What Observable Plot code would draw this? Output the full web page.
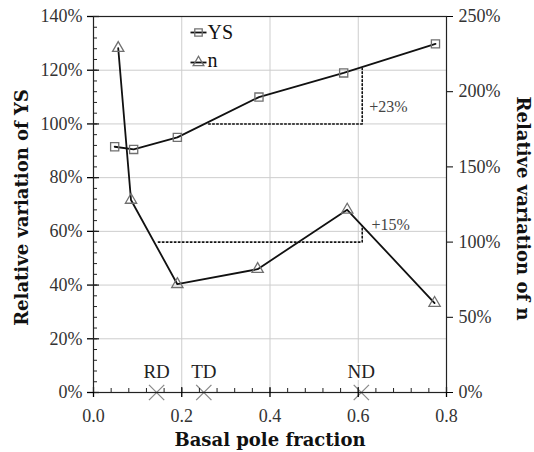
<!DOCTYPE html>
<html><head><meta charset="utf-8">
<script src="https://cdn.jsdelivr.net/npm/d3@7"></script>
<script src="https://cdn.jsdelivr.net/npm/@observablehq/plot@0.6"></script>
<style>body{margin:0;background:#fff}</style>
</head><body><div id="chart"></div>
<script>
// ---- data ----
const ysX   = [0.048, 0.091, 0.19, 0.375, 0.567, 0.775];
const ysVal = [91.5, 90.5, 95, 110, 119, 129.8];          // left axis, %
const nX    = [0.056, 0.085, 0.19, 0.372, 0.575, 0.773];
const nVal  = [229, 128, 72, 82, 121.5, 59.5];            // right axis, %
const dirNames = ["RD", "TD", "ND"];
const dirX     = [0.143, 0.25, 0.607];
const ysRefX = [0.261, 0.609, 0.609];
const ysRefY = [100, 100, 120.6];                         // left axis
const nRefX  = [0.147, 0.609, 0.609];
const nRefY  = [100, 100, 110.8];                         // right axis
const annTexts = ["+23%", "+15%"];
const annX     = [0.625, 0.63];
const annY     = [106.5, 111.5];                          // left / right axis values
const xTicks     = [0, 0.2, 0.4, 0.6, 0.8];
const xMinor     = d3.range(0, 0.8001, 0.04);
const leftTicks  = [0, 20, 40, 60, 80, 100, 120, 140];
const leftMinor  = d3.range(0, 140.01, 4);
const rightTicks = [0, 50, 100, 150, 200, 250];
const xGrid = [0.2, 0.4, 0.6];
const yGrid = [20, 40, 60, 80, 100, 120];
const legendNames = ["YS", "n"];

const K = 140 / 250; // right axis -> left axis
const ys = ysX.map((x, i) => ({x, y: ysVal[i]}));
const nn = nX.map((x, i) => ({x, y: nVal[i] * K}));
const ysRef = ysRefX.map((x, i) => ({x, y: ysRefY[i]}));
const nRef = nRefX.map((x, i) => ({x, y: nRefY[i] * K}));
const ann = annTexts.map((t, i) => ({t, x: annX[i], y: i === 0 ? annY[i] : annY[i] * K}));
const dirs = dirNames.map((name, i) => ({name, x: dirX[i]}));

const W = 534, H = 452, ML = 93, MR = 88, MT = 16, MB = 60;
const PW = W - ML - MR, PH = H - MT - MB;

const lineSym = {draw(ctx, size) { ctx.moveTo(-8, 0); ctx.lineTo(8, 0); }};
const markerGrey = "#707070";
const serif = "Liberation Serif";
const bold = "DejaVu Serif";

const chart = Plot.plot({
  width: W, height: H,
  marginLeft: ML, marginRight: MR, marginTop: MT, marginBottom: MB,
  x: {domain: [0, 0.8]},
  y: {domain: [0, 140]},
  style: {fontFamily: serif, fontSize: "17px", background: "white"},
  marks: [
    Plot.gridX(xGrid, {stroke: "#cdcdcd", strokeOpacity: 1}),
    Plot.gridY(yGrid, {stroke: "#cdcdcd", strokeOpacity: 1}),
    Plot.line(ysRef, {x: "x", y: "y", stroke: "#111", strokeWidth: 1.6, strokeDasharray: "1.6,2.4"}),
    Plot.line(nRef, {x: "x", y: "y", stroke: "#111", strokeWidth: 1.6, strokeDasharray: "1.6,2.4"}),
    Plot.line(ys, {x: "x", y: "y", stroke: "#111", strokeWidth: 1.8}),
    Plot.line(nn, {x: "x", y: "y", stroke: "#111", strokeWidth: 1.8}),
    Plot.dot(ys, {x: "x", y: "y", symbol: "square", r: 4.6, stroke: markerGrey, strokeWidth: 1.3, fill: "none"}),
    Plot.dot(nn, {x: "x", y: "y", symbol: "triangle", r: 4.2, stroke: markerGrey, strokeWidth: 1.3, fill: "none"}),
    Plot.text(ann, {x: "x", y: "y", text: "t", textAnchor: "start", fontFamily: serif, fontSize: 16, fill: "#444"}),
    Plot.text(dirs, {x: "x", y: () => 0, text: "name", dy: -21, fontFamily: serif, fontSize: 19, fill: "#222", stroke: "white", strokeWidth: 4}),
    Plot.dot(dirs, {x: "x", y: () => 0, symbol: "times", r: 7, stroke: "#8a8a8a", strokeWidth: 1.3}),
    Plot.frame({stroke: "#222", strokeWidth: 1.2}),
    // inward minor/major ticks
    Plot.tickY(leftMinor, {y: d => d, insetRight: PW - 4, stroke: "#222", strokeWidth: 1}),
    Plot.tickY(leftTicks, {y: d => d, insetRight: PW - 6, stroke: "#222", strokeWidth: 1.3}),
    Plot.tickX(xMinor, {x: d => d, insetTop: PH - 4, stroke: "#222", strokeWidth: 1}),
    Plot.tickX(xTicks, {x: d => d, insetTop: PH - 5, stroke: "#222", strokeWidth: 1.3}),
    // axes
    Plot.axisX(xTicks, {tickSize: 5, tickPadding: 12, tickFormat: d => d.toFixed(1), label: null, fontFamily: serif, fontSize: 18, fill: "#333", strokeWidth: 1.3}),
    Plot.axisY(leftTicks, {anchor: "left", tickSize: 6, tickPadding: 5, tickFormat: d => d + "%", label: null, fontFamily: serif, fontSize: 18, fill: "#333", strokeWidth: 1.3}),
    Plot.axisY(rightTicks.map(v => v * K), {anchor: "right", tickSize: 6, tickPadding: 6, tickFormat: d => Math.round(d / K) + "%", label: null, fontFamily: serif, fontSize: 18, fill: "#333"}),
    // axis titles
    Plot.text(["Basal pole fraction"], {frameAnchor: "bottom", dy: 48, textAnchor: "middle", lineAnchor: "middle", fontFamily: bold, fontWeight: "bold", fontSize: 18, letterSpacing: 2, fill: "#111"}),
    Plot.text(["Relative variation of YS"], {frameAnchor: "left", dx: -71, dy: 3, rotate: -90, textAnchor: "middle", lineAnchor: "middle", fontFamily: bold, fontWeight: "bold", fontSize: 18, letterSpacing: 2.2, fill: "#111"}),
    Plot.text(["Relative variation of n"], {frameAnchor: "right", dx: 76, dy: 4, rotate: 90, textAnchor: "middle", lineAnchor: "middle", fontFamily: bold, fontWeight: "bold", fontSize: 18, letterSpacing: 2.5, fill: "#111"}),
    // legend
    Plot.dot([legendNames[0]], {frameAnchor: "top-left", dx: 105, dy: 16, symbol: lineSym, r: 5, stroke: "#111", strokeWidth: 1.8}),
    Plot.dot([legendNames[0]], {frameAnchor: "top-left", dx: 105, dy: 16, symbol: "square", r: 4.2, stroke: markerGrey, strokeWidth: 1.3, fill: "none"}),
    Plot.text([legendNames[0]], {frameAnchor: "top-left", dx: 114, dy: 16, textAnchor: "start", lineAnchor: "middle", fontFamily: serif, fontSize: 20, fill: "#111"}),
    Plot.dot([legendNames[1]], {frameAnchor: "top-left", dx: 105, dy: 46, symbol: lineSym, r: 5, stroke: "#111", strokeWidth: 1.8}),
    Plot.dot([legendNames[1]], {frameAnchor: "top-left", dx: 105, dy: 46, symbol: "triangle", r: 4, stroke: markerGrey, strokeWidth: 1.3, fill: "none"}),
    Plot.text([legendNames[1]], {frameAnchor: "top-left", dx: 114, dy: 44, textAnchor: "start", lineAnchor: "middle", fontFamily: serif, fontSize: 20, fill: "#111"})
  ]
});
document.getElementById("chart").append(chart);
</script>
</body></html>
